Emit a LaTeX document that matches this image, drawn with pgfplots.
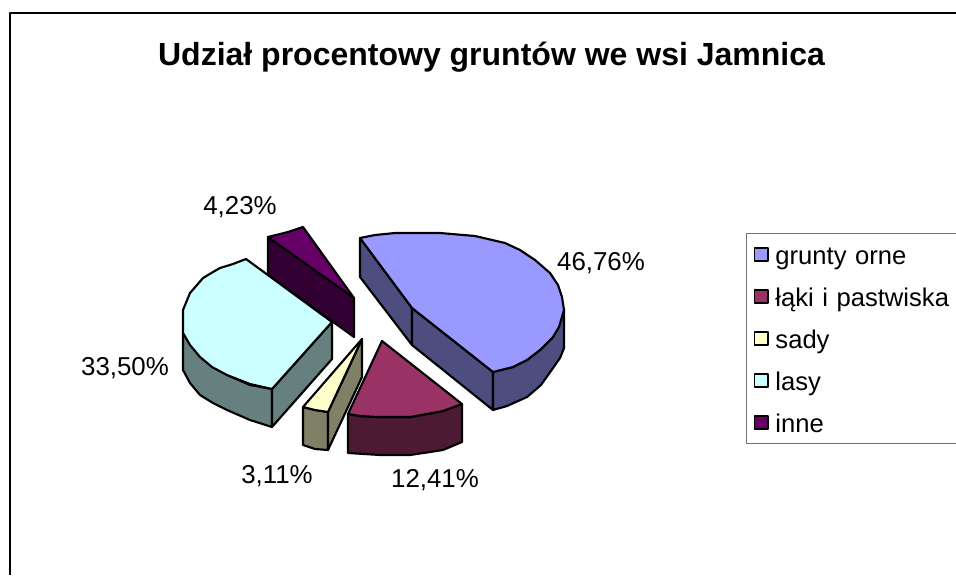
\documentclass[border=0pt]{standalone}
\usepackage{pgfplots}
\pgfplotsset{compat=1.18}
\usepackage{fontspec}
\setmainfont{Liberation Sans}
\definecolor{cA}{HTML}{9999FF}\definecolor{cAd}{HTML}{4D4D80}
\definecolor{cB}{HTML}{993366}\definecolor{cBd}{HTML}{4D1A33}
\definecolor{cC}{HTML}{FFFFCC}\definecolor{cCd}{HTML}{808066}
\definecolor{cD}{HTML}{CCFFFF}\definecolor{cDd}{HTML}{668080}
\definecolor{cE}{HTML}{660066}\definecolor{cEd}{HTML}{330033}
\begin{document}
\begin{tikzpicture}
\begin{axis}[
  at={(0,0)},anchor=south west,
  scale only axis,width=717pt,height=431.25pt,
  xmin=0,xmax=956,ymin=0,ymax=575,y dir=reverse,
  hide axis,clip=false,
  reverse legend,
  legend style={at={(axis cs:746,233)},anchor=north west,draw=black!55,line width=0.8pt,
    font=\fontsize{19.2}{20}\selectfont,
    nodes={text height=15.5pt,text depth=0pt,inner ysep=0pt,inner xsep=5pt},
    row sep=16pt,inner xsep=5.3pt,inner ysep=8pt,text width=140pt},
  legend cell align=left,
  legend image code/.code={\draw[#1,line width=1.4pt] (0pt,-5pt) rectangle (10pt,5pt);},
  every axis plot/.append style={draw=black,line width=1.6pt,line join=round},
]
% frame
\addplot[forget plot,line width=1.8pt,draw=black] coordinates {(10,575)(10,13)(956,13)};
% inne (purple)
\addplot[forget plot,fill=cEd] coordinates {(268,237)(268,275)(354,337)(354,298)} --cycle;
\addplot[fill=cE] coordinates {(268,237)(288,232)(303,227)(354,298)} --cycle;
\addlegendentry{inne}
% lasy (cyan)
\addplot[forget plot,fill=cDd] coordinates {(183,333)(183,370)(190,383)(200,395)(213,403)(227,410)(250,420)(272,427)(272,389)(250,385)(227,375)(200,357)} --cycle;
\addplot[forget plot,fill=cDd] coordinates {(332,322)(332,359)(272,427)(272,389)} --cycle;
\addplot[fill=cD] coordinates {(246,259)(332,322)(272,389)(250,384)(227,375)(212,367)(200,357)(190,345)(183,333)(183,320)(183,310)(190,293)(197,285)(203,278)(213,272)(220,268)(233,264)} --cycle;
\addlegendentry{lasy}
% sady (yellow)
\addplot[forget plot,fill=cCd] coordinates {(303,407)(303,445)(315,449)(328,450)(328,412)(315,410)} --cycle;
\addplot[forget plot,fill=cCd] coordinates {(362,339)(362,377)(328,450)(328,412)} --cycle;
\addplot[fill=cC] coordinates {(362,339)(328,412)(315,410)(303,407)} --cycle;
\addlegendentry{sady}
% laki (maroon)
\addplot[forget plot,fill=cBd] coordinates {(348,414)(348,453)(380,455)(410,455)(430,452)(443,450)(462,442)(462,404)(443,411)(427,414)(410,417)(377,417)(360,416)} --cycle;
\addplot[fill=cB] coordinates {(382,341)(462,404)(443,411)(427,414)(410,417)(377,417)(360,416)(348,414)} --cycle;
\addlegendentry{łąki i pastwiska}
% grunty orne (blue)
\addplot[forget plot,fill=cAd] coordinates {(360,238)(412,308)(412,345)(360,277)} --cycle;
\addplot[forget plot,fill=cAd] coordinates {(412,308)(493,372)(493,410)(412,345)} --cycle;
\addplot[forget plot,fill=cAd] coordinates {(493,372)(493,410)(507,406)(527,397)(541,385)(553,368)(560,358)(564,348)(564,310)(553,337)(540,350)(527,360)(513,367)} --cycle;
\addplot[fill=cA] coordinates {(360,238)(375,235)(395,233)(440,233)(475,236)(505,243)(520,250)(535,260)(550,273)(558,285)(562,297)(564,310)(559,327)(553,337)(540,350)(527,360)(513,367)(493,372)(412,308)} --cycle;
\addlegendentry{grunty orne}
% text
\node[font=\bfseries\fontsize{24}{28}\selectfont,anchor=center] at (axis cs:491.5,57) {Udział procentowy gruntów we wsi Jamnica};
\begin{scope}[every node/.style={font=\fontsize{19.4}{22}\selectfont,anchor=center,inner sep=0pt}]
\node at (axis cs:601,263) {46,76\%};
\node at (axis cs:435,480) {12,41\%};
\node at (axis cs:277,476) {3,11\%};
\node at (axis cs:125,368) {33,50\%};
\node at (axis cs:240,207) {4,23\%};
\end{scope}
\end{axis}
\pgfresetboundingbox
\path[use as bounding box] (0,0) rectangle (717pt,431.25pt);
\end{tikzpicture}
\end{document}
